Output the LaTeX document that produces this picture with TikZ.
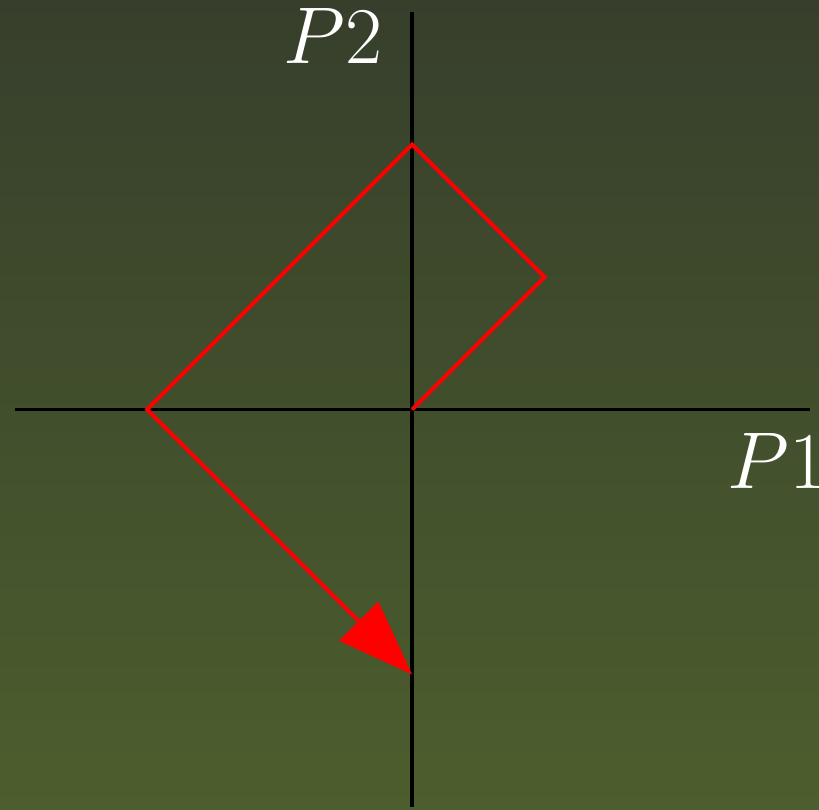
\documentclass[tikz,border=0pt]{standalone}
\usetikzlibrary{arrows.meta}
\definecolor{bgtop}{RGB}{55,63,44}
\definecolor{bgbot}{RGB}{76,94,45}
\begin{document}
\begin{tikzpicture}[x=1cm,y=1cm,
  axis/.style={black,line width=0.85pt},
  redpath/.style={red,line width=0.85pt,line join=miter},
  lbl/.style={white,font=\fontsize{18}{22}\selectfont,inner sep=0pt}]
\shade[top color=bgtop,bottom color=bgbot] (-3.11,-3.02) rectangle (3.07,3.09);
\useasboundingbox (-3.11,-3.02) rectangle (3.07,3.09);
\coordinate (xl) at (-3,0);
\coordinate (xr) at (3,0);
\coordinate (yb) at (0,-3);
\coordinate (yt) at (0,3);
\coordinate (o) at (0,0);
\coordinate (a) at (1,1);
\coordinate (b) at (0,2);
\coordinate (c) at (-2,0);
\coordinate (d) at (0,-2);
\draw[axis] (xl) -- (xr);
\draw[axis] (yb) -- (yt);
\draw[redpath,-{Triangle[length=0.57cm,width=0.41cm]}] (o) -- (a) -- (b) -- (c) -- (d);
\node[lbl] (p2) at (-0.60,2.82) {$P2$};
\node[lbl] (p1) at (2.75,-0.39) {$P1$};
\end{tikzpicture}
\end{document}
